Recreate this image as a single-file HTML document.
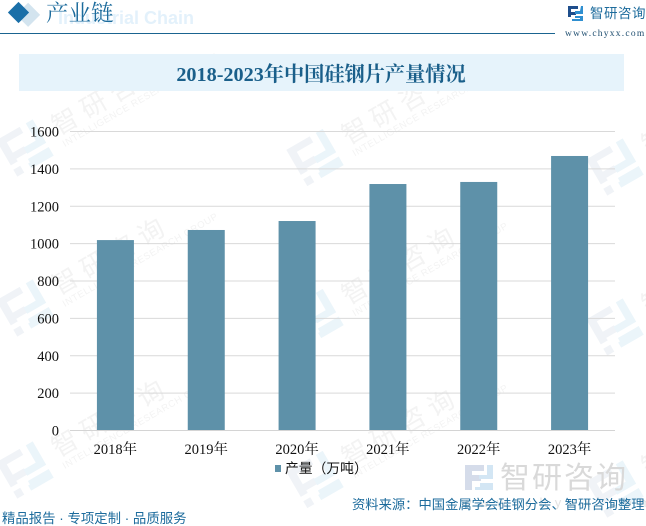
<!DOCTYPE html>
<html lang="zh"><head><meta charset="utf-8"><title>2018-2023年中国硅钢片产量情况</title>
<style>
html,body{margin:0;padding:0;background:#fff}
#page{position:relative;width:646px;height:526px;overflow:hidden;background:#fff}
svg{position:absolute;left:0;top:0}
.cjk{font-family:"Liberation Sans","Noto Sans CJK SC",sans-serif}
.ser{font-family:"Liberation Serif","Noto Serif CJK SC",serif}
</style></head>
<body>
<div id="page">
<svg id="s" width="646" height="526" viewBox="0 0 646 526">
  <defs><linearGradient id="fl" x1="0" x2="1" y1="0" y2="0"><stop offset="0" stop-color="#1a6490"/><stop offset="0.7" stop-color="#7fa9c4"/><stop offset="1" stop-color="#1a6490"/></linearGradient></defs>
  <g id="watermarks"></g>

  <g>
    <rect x="21" y="4" width="17" height="17" transform="rotate(45 26 12)" fill="#d3e4ef"/>
    <rect x="11" y="5" width="15" height="15" transform="rotate(45 18.5 12.5)" fill="#1a6fa8"/>
    <text x="58" y="24" font-family="Liberation Sans" font-weight="700" font-size="18" fill="#e3f1fb">Industrial Chain</text>
    <text x="46" y="21" class="ser" font-size="22.5" fill="#1c6b9c">产业链</text>
    <line x1="0" x2="555" y1="33.5" y2="33.5" stroke="#1a6490" stroke-width="1"/>
    <g>
      <path d="M568 6h10v3h-7v3h5v3h-5v2h-3z" fill="#1f4e8c"/>
      <path d="M581 6h2v8h-8v-3h5zM575 16h8v5h-11v-2h8v-1h-5z" fill="#2f8fd0"/>
    </g>
    <text x="590" y="18" class="cjk" font-size="13.5" letter-spacing="0.5" fill="#1c6b9c">智研咨询</text>
    <text x="565" y="36" font-family="Liberation Serif" font-size="9.5" letter-spacing="1.25" fill="#1f4e70">www.chyxx.com</text>
  </g>

  <rect x="19" y="54" width="605" height="37" fill="#e6f3fb"/>
  <text x="321" y="81" text-anchor="middle" class="ser" font-weight="700" font-size="20.2" fill="#1a5f8a">2018-2023年中国硅钢片产量情况</text>

  <g id="grid"></g>
  <g id="yt"></g>
  <g id="bars"></g>
  <line id="axis" stroke="#d4d4d4" stroke-width="1"/>
  <g id="xt"></g>

  <g>
    <rect x="275" y="465" width="6" height="7" fill="#5e91a9"/>
    <text x="285" y="473" class="cjk" font-size="13.8" fill="#111">产量&#xFF08;万吨&#xFF09;</text>
  </g>

  <g>
    <path d="M465 465h19v6h-12v4h9v6h-9v9h-7z" fill="#d5dcea"/>
    <path d="M493 465v14h-14v-4h8v-10zM480 483h13v7h-18v-3h5z" fill="#d3e6f4"/>
    <text x="500" y="488" class="cjk" font-size="30" letter-spacing="2" fill="#d9d9d9">智研咨询</text>
    <text x="462" y="507" font-family="Liberation Sans" font-size="13" letter-spacing="8" fill="#e2e2e2">www.chyxx.com</text>
  </g>

  <g>
    <line x1="0" x2="331" y1="503.5" y2="503.5" stroke="url(#fl)" stroke-width="1.5"/>
    <text x="2" y="523" class="cjk" font-size="13.4" fill="#1c6b9c">精品报告 · 专项定制 · 品质服务</text>
    <text x="352" y="509" class="cjk" font-size="13.3" fill="#1c6b9c">资料来源&#xFF1A;中国金属学会硅钢分会&#x3001;智研咨询整理</text>
  </g>
</svg>
</div>
<script>
var categories = ["2018年","2019年","2020年","2021年","2022年","2023年"];
var production = [1019,1073,1121,1319,1330,1469];
var yTicks = [0,200,400,600,800,1000,1200,1400,1600];

var NS = "http://www.w3.org/2000/svg";
var plotLeft = 70, plotRight = 615, plotTop = 131.5, plotBottom = 430.5, yMax = 1600, barWidth = 37;
function yScale(v){ return plotBottom - (v / yMax) * (plotBottom - plotTop); }
function xCenter(i){ return plotLeft + (i + 0.5) * (plotRight - plotLeft) / categories.length; }
function mk(tag, parent, attrs){
  var e = document.createElementNS(NS, tag);
  for (var k in attrs) e.setAttribute(k, attrs[k]);
  parent.appendChild(e);
  return e;
}

var grid = document.getElementById("grid"), yt = document.getElementById("yt"),
    bars = document.getElementById("bars"), xt = document.getElementById("xt"),
    axis = document.getElementById("axis"), wm = document.getElementById("watermarks");

yTicks.forEach(function(t){
  if (t > 0) {
    var l = mk("line", grid, {x1: plotLeft, x2: plotRight, y1: yScale(t), y2: yScale(t), stroke: "#d9d9d9", "stroke-width": 1});
    
    
  }
  var lab = mk("text", yt, {x: 59, y: yScale(t) + 5, "text-anchor": "end", "font-family": "Liberation Serif", "font-size": 14.5, fill: "#111"});
  lab.textContent = t;
  
  
});

production.forEach(function(v, i){
  var r = mk("rect", bars, {x: xCenter(i) - barWidth / 2, y: yScale(v), width: barWidth, height: plotBottom - yScale(v), fill: "#5e91a9"});
  
  
});

categories.forEach(function(c, i){
  var lab = mk("text", xt, {x: xCenter(i), y: 454, "text-anchor": "middle", "class": "ser", "font-size": 14.5, fill: "#111"});
  lab.textContent = c;
  
  
});

axis.setAttribute("x1", plotLeft);
axis.setAttribute("x2", plotRight);
axis.setAttribute("y1", plotBottom);
axis.setAttribute("y2", plotBottom);

[25, 315, 615].forEach(function(cx, c){
  [148, 308, 470].forEach(function(cy){
    var ox = cx, oy = cy + c * 9.5;
    var g = mk("g", wm, {transform: "translate(" + ox + " " + oy + ") rotate(-30)"});
    
    
    mk("path", g, {d: "M-21 -21h27v7h-19v12h13v7h-13v3h-8zM-21 13h8v8h-8z", fill: "#f0f3f7"});
    mk("path", g, {d: "M13 -21h8v27h-22v-7h14zM-3 11h24v10h-26v-6h2z", fill: "#ebf5fa"});
    var t = mk("text", g, {x: 35, y: 6, "class": "cjk", "font-size": 26, "letter-spacing": 7, fill: "#f3f3f3"});
    t.textContent = "智研咨询";
    var u = mk("text", g, {x: 35, y: 19, "font-family": "Liberation Sans", "font-size": 9.5, "letter-spacing": 0.6, fill: "#f3f3f3"});
    u.textContent = "INTELLIGENCE RESEARCH GROUP";
  });
});
</script>
</body></html>
